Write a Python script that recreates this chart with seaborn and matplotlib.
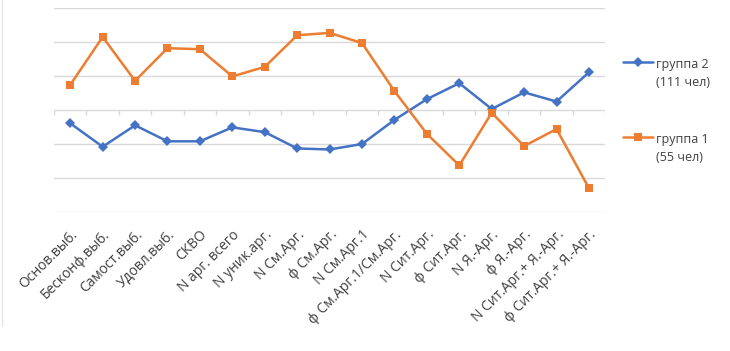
import numpy as np
import pandas as pd
import matplotlib.pyplot as plt
import seaborn as sns
from matplotlib.lines import Line2D

categories = [
    "Основ.выб.", "Бесконф.выб.", "Самост.выб.", "Удовл.выб.", "СКВО",
    "N арг. всего", "N уник.арг.", "N См.Арг.", "ф См.Арг.", "N См.Арг.1",
    "ф См.Арг.1/См.Арг.", "N Сит.Арг.", "ф Сит.Арг.", "N Я.-Арг.", "ф Я.-Арг.",
    "N Сит.Арг.+ Я.-Арг.", "ф Сит.Арг.+ Я.-Арг.",
]
group2 = [-0.39, -1.08, -0.45, -0.92, -0.92, -0.51, -0.65, -1.13, -1.16, -1.00,
          -0.29, 0.32, 0.79, 0.03, 0.52, 0.25, 1.11]
group1 = [0.74, 2.15, 0.86, 1.82, 1.79, 0.99, 1.27, 2.20, 2.27, 1.97,
          0.56, -0.70, -1.63, -0.08, -1.06, -0.56, -2.30]
series_names = ["группа 2\n(111 чел)", "группа 1\n(55 чел)"]

df = pd.concat([
    pd.DataFrame({"idx": np.arange(len(categories)), "val": group2, "grp": series_names[0]}),
    pd.DataFrame({"idx": np.arange(len(categories)), "val": group1, "grp": series_names[1]}),
])

sns.set_theme(style="white")
plt.rcParams["font.family"] = ["Open Sans", "DejaVu Sans"]

fig, ax = plt.subplots(figsize=(7.3, 3.51), dpi=100)
fig.subplots_adjust(left=0.074, right=0.829, top=0.977, bottom=0.396)

palette = {series_names[0]: "#4472C4", series_names[1]: "#ED7D31"}
sns.lineplot(
    data=df, x="idx", y="val", hue="grp", style="grp",
    hue_order=series_names, style_order=series_names,
    palette=palette, markers={series_names[0]: "D", series_names[1]: "s"},
    dashes=False, lw=1.8, markersize=5.5, markeredgewidth=0, ax=ax,
)

ax.set_xlim(-0.5, len(categories) - 0.5)
ax.set_ylim(-3, 3)
ax.set_yticks(np.arange(-3, 4))
ax.yaxis.grid(True, color="#D9D9D9", lw=1)
ax.set_axisbelow(True)
ax.tick_params(axis="y", left=False, labelleft=False)
for s in ax.spines.values():
    s.set_visible(False)

ax.set_xticks(np.arange(len(categories)))
ax.set_xticklabels(categories, rotation=45, ha="right", rotation_mode="anchor",
                   fontsize=10, color="#404040")
ax.tick_params(axis="x", length=0, pad=11)
ax.set_xlabel("")
ax.set_ylabel("")

# category axis at zero: small tick marks between categories
bounds = np.arange(len(categories) + 1) - 0.5
ax.vlines(bounds, -0.15, 0, color="#D9D9D9", lw=1, zorder=1)

leg = ax.legend(loc="upper left", bbox_to_anchor=(1.033, 0.756), frameon=False,
                fontsize=9, handlelength=2.4, labelspacing=3.5, handletextpad=0.2,
                borderpad=0, borderaxespad=0, labelcolor="#404040")
for t in leg.get_texts():
    t.set_linespacing(1.5)
# put the line handle beside the first text line
for col in leg._legend_handle_box.get_children():
    for row in col.get_children():
        row.align = "top"

fig.add_artist(Line2D([0.003, 0.003], [0.07, 1.0], color="#E6E6E6", lw=1))

fig.savefig("out.png", dpi=100)
